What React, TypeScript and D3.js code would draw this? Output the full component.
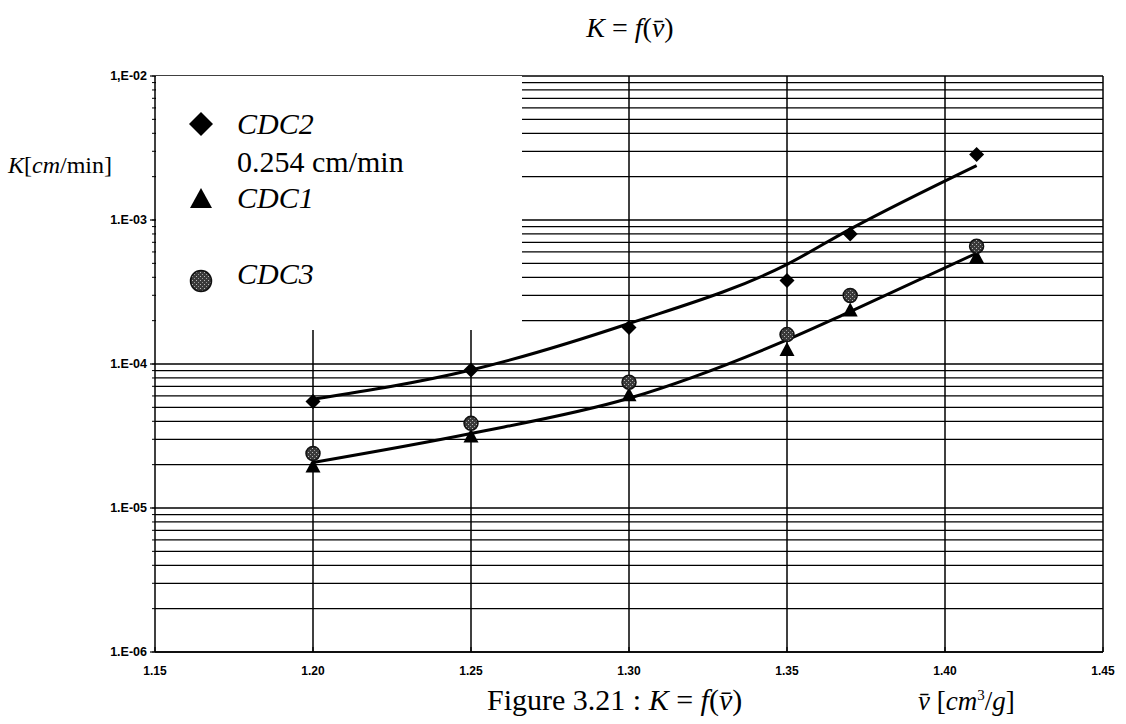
import React from "react";
import * as d3 from "d3";

const xValues = [1.2, 1.25, 1.3, 1.35, 1.37, 1.41];
const cdc2 = [5.5e-5, 9.1e-5, 1.79e-4, 3.8e-4, 8.0e-4, 2.85e-3];
const cdc1 = [1.97e-5, 3.19e-5, 6.17e-5, 1.27e-4, 2.39e-4, 5.6e-4];
const cdc3 = [2.39e-5, 3.87e-5, 7.48e-5, 1.6e-4, 2.99e-4, 6.58e-4];
const trendUpper = [5.69e-5, 9.08e-5, 1.91e-4, 4.92e-4, 8.65e-4, 2.39e-3];
const trendLower = [2.07e-5, 3.29e-5, 5.78e-5, 1.47e-4, 2.31e-4, 5.88e-4];

const xTicks = [1.15, 1.2, 1.25, 1.3, 1.35, 1.4, 1.45];
const xTickLabels = ["1.15", "1.20", "1.25", "1.30", "1.35", "1.40", "1.45"];
const yDecades = [1e-6, 1e-5, 1e-4, 1e-3, 1e-2];
const yTickLabels = ["1.E-06", "1.E-05", "1.E-04", "1.E-03", "1,E-02"];

const W = 1126, H = 724;
const L = 155, R = 1103, T = 76, B = 652;
const legendBox = { x0: 156, x1: 522, y1: 330 };

export default function App() {
  const x = d3.scaleLinear().domain([1.15, 1.45]).range([L, R]);
  const y = d3.scaleLog().domain([1e-6, 1e-2]).range([B, T]);

  const minor: number[] = [];
  for (let i = 0; i < yDecades.length - 1; i++) {
    for (let k = 1; k <= 9; k++) minor.push(yDecades[i] * k);
  }
  minor.push(1e-2);

  const line = d3
    .line<number>()
    .x((_, i) => x(xValues[i]))
    .y((d) => y(d))
    .curve(d3.curveMonotoneX);

  const serif = "'Liberation Serif', 'Times New Roman', serif";
  const sans = "'Liberation Sans', Arial, sans-serif";

  const diamond = (cx: number, cy: number, r: number) =>
    `M${cx},${cy - r}L${cx + r},${cy}L${cx},${cy + r}L${cx - r},${cy}Z`;
  const tri = (cx: number, cy: number, w: number, h: number) =>
    `M${cx},${cy - h / 2}L${cx + w / 2},${cy + h / 2}L${cx - w / 2},${cy + h / 2}Z`;

  return (
    <div style={{ position: "fixed", left: 0, top: 0, width: W, height: H, background: "#fff" }}>
      <svg width={W} height={H} style={{ display: "block" }}>
        <defs>
          <pattern id="stip" width="4" height="4" patternUnits="userSpaceOnUse">
            <rect width="4" height="4" fill="#3a3a3a" />
            <rect x="0" y="0" width="1" height="1" fill="#bbb" />
            <rect x="2" y="2" width="1" height="1" fill="#999" />
          </pattern>
        </defs>
        <rect width={W} height={H} fill="#fff" />

        {/* horizontal grid lines */}
        {minor.map((v, i) => (
          <line key={"h" + i} x1={L} x2={R} y1={y(v)} y2={y(v)} stroke="#000" strokeWidth={1.3} />
        ))}
        {/* vertical grid lines */}
        {xTicks.slice(1, -1).map((v, i) => (
          <line key={"v" + i} x1={x(v)} x2={x(v)} y1={T} y2={B} stroke="#000" strokeWidth={1.5} />
        ))}
        {/* legend box (white) */}
        <rect x={legendBox.x0} y={T} width={legendBox.x1 - legendBox.x0} height={legendBox.y1 - T} fill="#fff" />

        {/* axes */}
        <line x1={L} x2={L} y1={T} y2={B} stroke="#000" strokeWidth={1.5} />
        <line x1={R} x2={R} y1={T} y2={B} stroke="#000" strokeWidth={1.5} />
        <line x1={L} x2={R} y1={B} y2={B} stroke="#000" strokeWidth={1.5} />
        {minor.map((v, i) => (
          <line key={"mt" + i} x1={L - 3} x2={L} y1={y(v)} y2={y(v)} stroke="#000" strokeWidth={1} />
        ))}
        {yDecades.map((v, i) => (
          <g key={"yt" + i}>
            <line x1={L - 5} x2={L} y1={y(v)} y2={y(v)} stroke="#000" strokeWidth={1.2} />
            <text x={L - 8} y={y(v)} dy="0.35em" textAnchor="end" fontFamily={sans} fontWeight="bold" fontSize={12.5}>
              {yTickLabels[i]}
            </text>
          </g>
        ))}
        {xTicks.map((v, i) => (
          <g key={"xt" + i}>
            <line x1={x(v)} x2={x(v)} y1={B} y2={B - 5} stroke="#000" strokeWidth={1.2} />
            <text x={x(v)} y={B + 23} textAnchor="middle" fontFamily={sans} fontWeight="bold" fontSize={12}>
              {xTickLabels[i]}
            </text>
          </g>
        ))}

        {/* trend lines */}
        <path d={line(trendUpper) || ""} fill="none" stroke="#000" strokeWidth={3} />
        <path d={line(trendLower) || ""} fill="none" stroke="#000" strokeWidth={3} />

        {/* markers */}
        {cdc1.map((v, i) => (
          <path key={"t" + i} d={tri(x(xValues[i]), y(v), 15, 14)} fill="#000" />
        ))}
        {cdc3.map((v, i) => (
          <circle key={"c" + i} cx={x(xValues[i])} cy={y(v)} r={7} fill="url(#stip)" stroke="#111" strokeWidth={1.5} />
        ))}
        {cdc2.map((v, i) => (
          <path key={"d" + i} d={diamond(x(xValues[i]), y(v), 7.5)} fill="#000" />
        ))}

        {/* legend */}
        <path d={diamond(201, 124, 12)} fill="#000" />
        <text x={237} y={134} fontFamily={serif} fontStyle="italic" fontSize={30}>CDC2</text>
        <text x={237} y={172} fontFamily={serif} fontSize={30}>0.254 cm/min</text>
        <path d={tri(201, 198, 22, 20)} fill="#000" />
        <text x={237} y={208} fontFamily={serif} fontStyle="italic" fontSize={30}>CDC1</text>
        <circle cx={201} cy={281} r={10.5} fill="url(#stip)" stroke="#111" strokeWidth={1.5} />
        <text x={237} y={284} fontFamily={serif} fontStyle="italic" fontSize={30}>CDC3</text>

        {/* title */}
        <text x={630} y={37} textAnchor="middle" fontFamily={serif} fontSize={28}>
          <tspan fontStyle="italic">K</tspan>{" = "}<tspan fontStyle="italic">f</tspan>(<tspan fontStyle="italic">v̄</tspan>)
        </text>

        {/* y label */}
        <text x={8} y={173} fontFamily={serif} fontSize={24}>
          <tspan fontStyle="italic">K</tspan>[<tspan fontStyle="italic">cm</tspan>/min]
        </text>

        {/* caption */}
        <text x={487} y={710} fontFamily={serif} fontSize={30}>
          Figure 3.21 : <tspan fontStyle="italic">K</tspan>{" = "}<tspan fontStyle="italic">f</tspan>(<tspan fontStyle="italic">v̄</tspan>)
        </text>
        <text x={918} y={710} fontFamily={serif} fontSize={27}>
          <tspan fontStyle="italic">v̄</tspan> [<tspan fontStyle="italic">cm</tspan><tspan fontSize={15} dy={-10}>3</tspan><tspan dy={10}>/</tspan><tspan fontStyle="italic">g</tspan>]
        </text>
      </svg>
    </div>
  );
}
